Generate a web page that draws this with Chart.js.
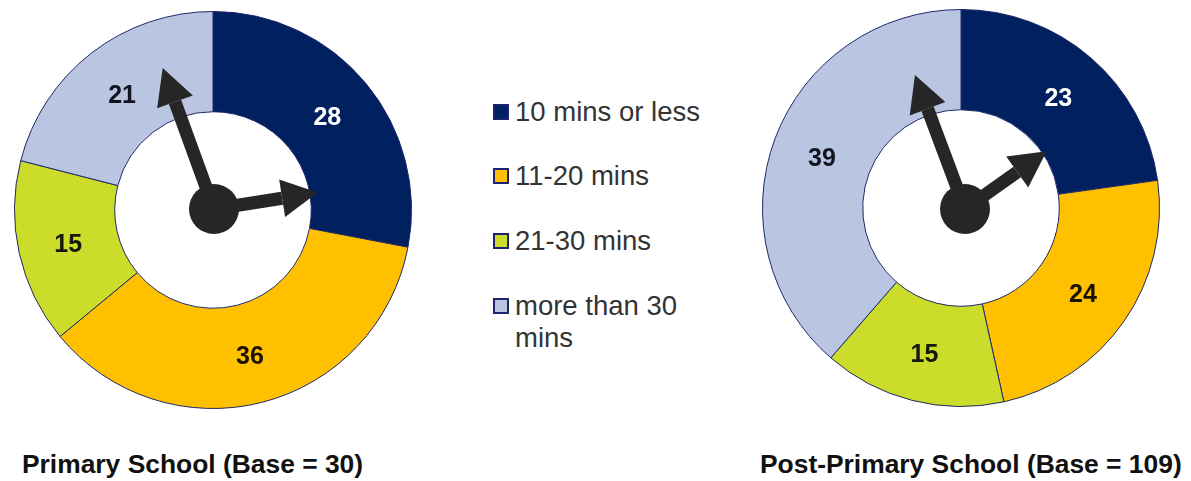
<!DOCTYPE html>
<html>
<head>
<meta charset="utf-8">
<title>Journey time to school</title>
<script src="https://cdn.jsdelivr.net/npm/chart.js@4"></script>
<style>
  html, body { margin: 0; padding: 0; background: #fff; }
  body { position: relative; width: 1191px; height: 481px; overflow: hidden; font-family: "Liberation Sans", Arial, sans-serif; }
  canvas { position: absolute; }
  .caption { position: absolute; top: 449px; font-size: 26.4px; line-height: 30px; font-weight: bold; color: #111; white-space: nowrap; }
  .key { position: absolute; left: 493px; width: 212px; display: flex; align-items: flex-start; }
  .swatch { flex: none; width: 12px; height: 12px; margin: 8px 6px 0 0; border: 2px solid #1c2470; }
  .key span { font-size: 27.5px; line-height: 32px; color: #333; }
</style>
</head>
<body>
<canvas id="primary" width="430" height="430" style="left:-2px;top:-5px"></canvas>
<canvas id="postPrimary" width="430" height="430" style="left:746px;top:-7px"></canvas>
<div class="caption" id="primaryCaption" style="left:22px"></div>
<div class="caption" id="postPrimaryCaption" style="left:760px"></div>
<div id="legend"></div>
<script>
const categories = ['10 mins or less', '11-20 mins', '21-30 mins', 'more than 30 mins'];
const primaryValues = [28, 36, 15, 21];
const postPrimaryValues = [23, 24, 15, 39];
const primaryTitle = 'Primary School (Base = 30)';
const postPrimaryTitle = 'Post-Primary School (Base = 109)';
const segmentColours = ['#00205f', '#ffc000', '#cbdc2b', '#b9c5e1'];
const labelColours = ['#ffffff', '#1a1200', '#15180a', '#10141f'];

// Value labels at each segment's centroid, then the clock face on top.
const clockOverlay = {
  id: 'clockOverlay',
  afterDatasetsDraw(chart, args, opts) {
    const ctx = chart.ctx;
    const arcs = chart.getDatasetMeta(0).data;
    const values = chart.data.datasets[0].data;

    ctx.save();
    ctx.font = 'bold 25px "Liberation Sans", Arial, sans-serif';
    ctx.textAlign = 'center';
    ctx.textBaseline = 'middle';
    arcs.forEach((arc, i) => {
      const p = arc.tooltipPosition();
      ctx.fillStyle = labelColours[i];
      ctx.fillText(String(values[i]), p.x + opts.labelShift[0], p.y + opts.labelShift[1]);
    });

    const hubX = arcs[0].x + opts.hubOffset[0];
    const hubY = arcs[0].y + opts.hubOffset[1];
    ctx.fillStyle = '#262626';
    ctx.strokeStyle = '#262626';
    opts.hands.forEach(hand => {
      const a = (hand.angle - 90) * Math.PI / 180;
      const ux = Math.cos(a), uy = Math.sin(a);
      const tipX = hubX + ux * hand.length, tipY = hubY + uy * hand.length;
      const baseX = tipX - ux * 36, baseY = tipY - uy * 36;
      ctx.lineWidth = 13;
      ctx.beginPath();
      ctx.moveTo(hubX, hubY);
      ctx.lineTo(baseX, baseY);
      ctx.stroke();
      ctx.beginPath();
      ctx.moveTo(tipX, tipY);
      ctx.lineTo(baseX - uy * 19, baseY + ux * 19);
      ctx.lineTo(baseX + uy * 19, baseY - ux * 19);
      ctx.closePath();
      ctx.fill();
    });
    ctx.beginPath();
    ctx.arc(hubX, hubY, 25, 0, Math.PI * 2);
    ctx.fill();
    ctx.restore();
  }
};

function drawDoughnut(id, values, clock) {
  return new Chart(document.getElementById(id), {
    type: 'doughnut',
    data: {
      labels: categories,
      datasets: [{
        data: values,
        backgroundColor: segmentColours,
        borderColor: '#1f2868',
        borderWidth: 1,
        borderAlign: 'center'
      }]
    },
    options: {
      responsive: false,
      animation: false,
      devicePixelRatio: 1,
      cutout: '49.5%',
      layout: { padding: 16 },
      plugins: {
        legend: { display: false },
        tooltip: { enabled: false },
        clockOverlay: clock
      }
    },
    plugins: [clockOverlay]
  });
}

drawDoughnut('primary', primaryValues, {
  hubOffset: [1, -1],
  labelShift: [0, 3],
  hands: [{ angle: 81, length: 105 }, { angle: -20, length: 150 }]
});
drawDoughnut('postPrimary', postPrimaryValues, {
  hubOffset: [4, 1],
  labelShift: [0, 3],
  hands: [{ angle: 54.7, length: 100 }, { angle: -20.5, length: 143 }]
});

document.getElementById('primaryCaption').textContent = primaryTitle;
document.getElementById('postPrimaryCaption').textContent = postPrimaryTitle;

// Legend rows, one per category; the last label wraps onto a second line.
const legendTops = [96, 160, 225, 290];
const legend = document.getElementById('legend');
categories.forEach((name, i) => {
  const row = document.createElement('div');
  row.className = 'key';
  row.style.top = legendTops[i] + 'px';
  const swatch = document.createElement('div');
  swatch.className = 'swatch';
  swatch.style.background = segmentColours[i];
  const text = document.createElement('span');
  text.textContent = name;
  row.append(swatch, text);
  legend.append(row);
});
</script>
</body>
</html>
